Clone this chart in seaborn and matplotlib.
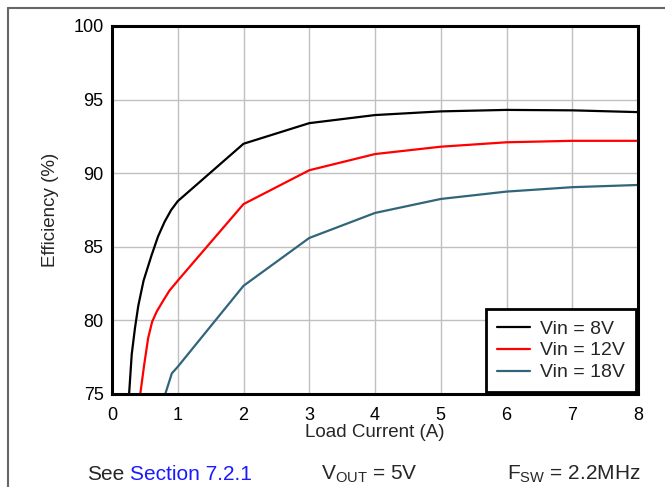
import numpy as np
import pandas as pd
import matplotlib
matplotlib.use("Agg")
import matplotlib.pyplot as plt
import seaborn as sns
from matplotlib.lines import Line2D

sns.set_style("white")
plt.rcParams['font.family'] = ['Liberation Sans', 'DejaVu Sans']
plt.rcParams['mathtext.default'] = 'regular'

# Data
x_8v = [0.26, 0.30, 0.35, 0.40, 0.48, 0.60, 0.70, 0.80, 0.90, 1.0, 2, 3, 4, 5, 6, 7, 8]
y_8v = [75.0, 77.7, 79.5, 81.0, 82.7, 84.4, 85.7, 86.7, 87.5, 88.1, 92.0, 93.4, 93.95, 94.2, 94.3, 94.27, 94.15]
x_12v = [0.43, 0.49, 0.55, 0.61, 0.68, 0.76, 0.87, 1.0, 2, 3, 4, 5, 6, 7, 8]
y_12v = [75.0, 77.0, 78.8, 79.9, 80.6, 81.2, 82.0, 82.7, 87.9, 90.2, 91.3, 91.8, 92.1, 92.2, 92.2]
x_18v = [0.81, 0.91, 1.0, 2, 3, 4, 5, 6, 7, 8]
y_18v = [75.0, 76.4, 76.85, 82.35, 85.6, 87.3, 88.25, 88.75, 89.05, 89.2]
series = ["Vin = 8V", "Vin = 12V", "Vin = 18V"]
colors = ["#000000", "#ff0000", "#31657a"]
x_ticks = [0, 1, 2, 3, 4, 5, 6, 7, 8]
y_ticks = [75, 80, 85, 90, 95, 100]

df = pd.concat([
    pd.DataFrame({"x": xs, "y": ys, "s": name, "o": np.arange(len(xs))})
    for xs, ys, name in zip([x_8v, x_12v, x_18v], [y_8v, y_12v, y_18v], series)
], ignore_index=True)

fig = plt.figure(figsize=(6.65, 4.87), dpi=100)
ax = fig.add_axes([112/665, 1-394/487, (638-112)/665, (394-26)/487])

sns.lineplot(data=df, x="x", y="y", hue="s", hue_order=series,
             palette=dict(zip(series, colors)), sort=False, estimator=None,
             linewidth=1.6, ax=ax, legend=False)

ax.set_xlim(0, 8)
ax.set_ylim(75, 100)
ax.set_xticks(x_ticks)
ax.set_yticks(y_ticks)
ax.grid(True, color="#c0c0c0", linewidth=1.0)
ax.set_axisbelow(True)
for sp in ax.spines.values():
    sp.set_visible(True)
    sp.set_color("black")
    sp.set_linewidth(2.2)
ax.tick_params(axis="both", length=0, labelsize=13, colors="black")
ax.tick_params(axis="x", pad=9.5)
ax.tick_params(axis="y", pad=6)
ax.set_xlabel("Load Current (A)", fontsize=13.5, labelpad=0)
ax.set_ylabel("Efficiency (%)", fontsize=13.5, labelpad=10.5)

handles = [Line2D([0], [0], color=c, linewidth=1.6) for c in colors]
leg = ax.legend(handles, series, loc="lower right", fontsize=14, frameon=True,
                fancybox=False, framealpha=1, edgecolor="black",
                borderaxespad=0.1, handlelength=1.7, handletextpad=0.55,
                labelspacing=0.22, borderpad=0.55)
leg.get_frame().set_linewidth(2.0)

# figure frame lines
fig.add_artist(Line2D([8/665, 8/665], [0, 1-8/487], transform=fig.transFigure,
                      color="#666666", linewidth=1.5))
fig.add_artist(Line2D([8/665, 1], [1-8/487, 1-8/487], transform=fig.transFigure,
                      color="#666666", linewidth=1.5))

ty = 1 - 480/487
fig.text(87/665, ty, "See", fontsize=15, va="baseline", ha="left")
fig.text(130/665, ty, "Section 7.2.1", fontsize=15, va="baseline", ha="left", color="#1a1aff")
fig.text(321/665, ty, r"V$_{OUT}$ = 5V", fontsize=15, va="baseline", ha="left")
fig.text(507/665, ty, r"F$_{SW}$ = 2.2MHz", fontsize=15, va="baseline", ha="left")

fig.savefig("out.png", dpi=100)
